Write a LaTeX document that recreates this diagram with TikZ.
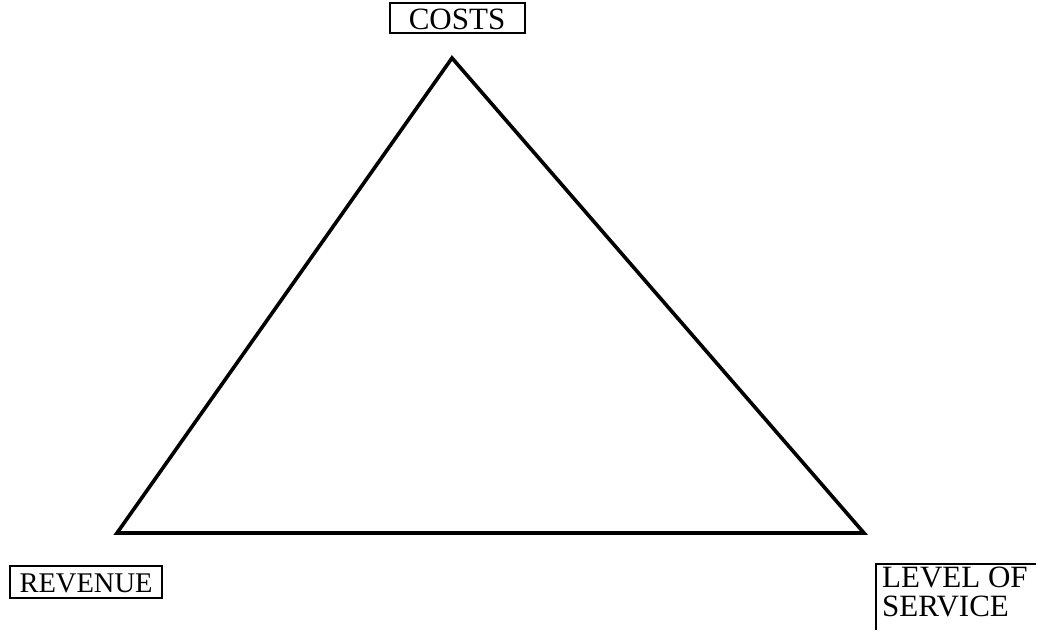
\documentclass[tikz,border=0pt]{standalone}
\usepackage{fontspec}
\setmainfont{Liberation Serif}
\begin{document}
\begin{tikzpicture}[x=1pt,y=-1pt,
  lbl/.style={font=\fontsize{31}{29}\selectfont, inner sep=0pt, align=left},
  boxline/.style={line width=2pt},
  tri/.style={line width=3.6pt, line join=miter}]
\useasboundingbox (0,0) rectangle (1038,630);
\coordinate (top) at (452,58);
\coordinate (bl) at (117,533);
\coordinate (br) at (864,533);
\draw[tri] (top) -- (bl) -- (br) -- cycle;
% COSTS
\node[lbl, anchor=center] (costs) at (457,19) {COSTS};
\draw[boxline] (390,3) rectangle (525,33);
% REVENUE
\node[lbl, font=\fontsize{28.5}{27}\selectfont, anchor=center] (rev) at (86,583) {REVENUE};
\draw[boxline] (10,566) rectangle (162,598);
% LEVEL OF SERVICE
\node[lbl, anchor=north west] (los) at (882,567) {LEVEL OF\\SERVICE};
\coordinate (losA) at (876,630);
\coordinate (losB) at (876,564);
\coordinate (losC) at (1036,564);
\draw[boxline] (losA) -- (losB) -- (losC);
\end{tikzpicture}
\end{document}
